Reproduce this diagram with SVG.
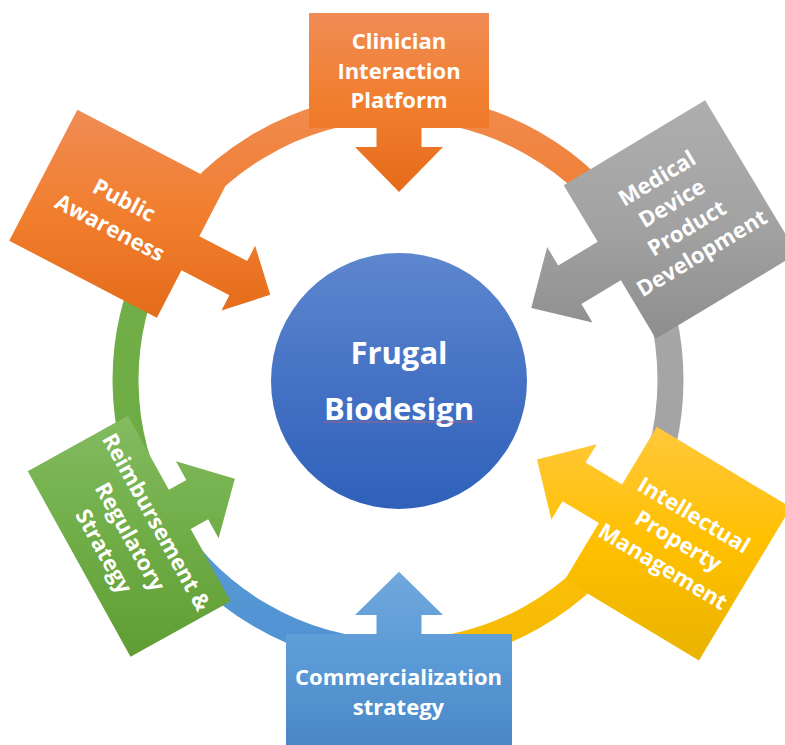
<svg xmlns="http://www.w3.org/2000/svg" width="785" height="745" viewBox="0 0 785 745">
<style>
.lbl{font-family:"Open Sans","Liberation Sans",sans-serif;font-weight:700;font-size:22px;fill:#ffffff;text-anchor:middle}
.ctr{font-family:"Open Sans","Liberation Sans",sans-serif;font-weight:700;font-size:31px;fill:#ffffff;text-anchor:middle}
.ring{fill:none;stroke-width:26}
</style>
<defs>
<linearGradient id="gOrA" gradientUnits="userSpaceOnUse" x1="0" y1="13" x2="0" y2="192" gradientTransform="rotate(0) translate(-399 -381)"><stop offset="0" stop-color="#F08C55"/><stop offset="0.5" stop-color="#F17E2E"/><stop offset="1" stop-color="#E46C1A"/></linearGradient>
<linearGradient id="gGray" gradientUnits="userSpaceOnUse" x1="0" y1="100" x2="0" y2="338" gradientTransform="rotate(-59) translate(-399 -381)"><stop offset="0" stop-color="#AEAEAE"/><stop offset="0.5" stop-color="#A3A3A3"/><stop offset="1" stop-color="#8E8E8E"/></linearGradient>
<linearGradient id="gGold" gradientUnits="userSpaceOnUse" x1="0" y1="427" x2="0" y2="658" gradientTransform="rotate(-121) translate(-399 -381)"><stop offset="0" stop-color="#FFC83C"/><stop offset="0.5" stop-color="#FFC000"/><stop offset="1" stop-color="#EAB400"/></linearGradient>
<linearGradient id="gBlue" gradientUnits="userSpaceOnUse" x1="0" y1="572" x2="0" y2="749" gradientTransform="rotate(-180) translate(-399 -381)"><stop offset="0" stop-color="#71A8DD"/><stop offset="0.5" stop-color="#5A9AD6"/><stop offset="1" stop-color="#4A86C6"/></linearGradient>
<linearGradient id="gGreen" gradientUnits="userSpaceOnUse" x1="0" y1="416" x2="0" y2="657" gradientTransform="rotate(-241) translate(-399 -381)"><stop offset="0" stop-color="#83BB61"/><stop offset="0.5" stop-color="#70AD47"/><stop offset="1" stop-color="#5F9D34"/></linearGradient>
<linearGradient id="gOrB" gradientUnits="userSpaceOnUse" x1="0" y1="109" x2="0" y2="318" gradientTransform="rotate(-297.5) translate(-399 -381)"><stop offset="0" stop-color="#F08C55"/><stop offset="0.5" stop-color="#F17E2E"/><stop offset="1" stop-color="#E46C1A"/></linearGradient>
<linearGradient id="gCenter" x1="0" y1="0" x2="0" y2="1"><stop offset="0" stop-color="#5D87CE"/><stop offset="0.5" stop-color="#4572C4"/><stop offset="1" stop-color="#2F61BA"/></linearGradient>
<linearGradient id="rOr" x1="0" y1="0" x2="0" y2="1"><stop offset="0" stop-color="#F18A4C"/><stop offset="1" stop-color="#EE7A2C"/></linearGradient>
<linearGradient id="rGray" x1="0" y1="0" x2="0" y2="1"><stop offset="0" stop-color="#A8A8A8"/><stop offset="1" stop-color="#A2A2A2"/></linearGradient>
<linearGradient id="rGold" x1="0" y1="0" x2="0" y2="1"><stop offset="0" stop-color="#FFC411"/><stop offset="1" stop-color="#F5B900"/></linearGradient>
<linearGradient id="rBlue" x1="0" y1="0" x2="0" y2="1"><stop offset="0" stop-color="#5B9BD7"/><stop offset="1" stop-color="#5092D3"/></linearGradient>
<linearGradient id="rGreen" x1="0" y1="0" x2="0" y2="1"><stop offset="0" stop-color="#72AF49"/><stop offset="1" stop-color="#6CAA43"/></linearGradient>
</defs>
<rect width="785" height="745" fill="#ffffff"/>
<g id="connectors">
<path class="ring" stroke="url(#rOr)" d="M398,107.5 A272.5,272.5 0 0 1 631.6,239.7"/>
<path class="ring" stroke="url(#rGray)" d="M631.6,239.7 A272.5,272.5 0 0 1 631.6,520.3"/>
<path class="ring" stroke="url(#rGold)" d="M631.6,520.3 A272.5,272.5 0 0 1 398,652.5"/>
<path class="ring" stroke="url(#rBlue)" d="M398,652.5 A272.5,272.5 0 0 1 159.7,512.1"/>
<path class="ring" stroke="url(#rGreen)" d="M159.7,512.1 A272.5,272.5 0 0 1 156.3,254.2"/>
<path class="ring" stroke="url(#rOr)" d="M156.3,254.2 A272.5,272.5 0 0 1 398,107.5"/>
</g>
<g id="node-clinician">
<polygon fill="url(#gOrA)" transform="translate(399 381) rotate(0)" points="-90,-368 90,-368 90,-253 22.5,-253 22.5,-234 44,-234 0,-189 -44,-234 -22.5,-234 -22.5,-253 -90,-253"/>
<text class="lbl" x="399" y="48.5">Clinician</text>
<text class="lbl" x="399" y="78.5">Interaction</text>
<text class="lbl" x="399" y="108">Platform</text>
</g>
<g id="node-medical">
<polygon fill="url(#gGray)" transform="translate(399 381) rotate(59)" points="-83,-407 96,-407 96,-242 28,-242 28,-196 49.5,-196 5.5,-151 -38.5,-196 -17,-196 -17,-242 -83,-242"/>
<g transform="translate(679.4 215.8) rotate(-31)">
<text class="lbl" x="0" y="-36">Medical</text>
<text class="lbl" x="0" y="-7">Device</text>
<text class="lbl" x="0" y="22">Product</text>
<text class="lbl" x="0" y="51">Development</text>
</g>
</g>
<g id="node-ip">
<polygon fill="url(#gGold)" transform="translate(399 381) rotate(121)" points="-93.5,-401 85,-401 85,-244.5 18.8,-244.5 18.8,-202 40.3,-202 -3.7,-158.7 -47.7,-202 -26.2,-202 -26.2,-244.5 -93.5,-244.5"/>
<g transform="translate(678.3 541) rotate(31)">
<text class="lbl" x="0" y="-22.5">Intellectual</text>
<text class="lbl" x="0" y="7.5">Property</text>
<text class="lbl" x="0" y="37.5">Management</text>
</g>
</g>
<g id="node-commercialization">
<polygon fill="url(#gBlue)" transform="translate(399 381) rotate(180)" points="-113,-372 113,-372 113,-253 22.5,-253 22.5,-234 44,-234 0,-190.7 -44,-234 -22.5,-234 -22.5,-253 -113,-253"/>
<text class="lbl" x="398.5" y="685">Commercialization</text>
<text class="lbl" x="398.5" y="715">strategy</text>
</g>
<g id="node-reimbursement">
<polygon fill="url(#gGreen)" transform="translate(399 381) rotate(241)" points="-111,-368.5 101,-368.5 101,-254 16.5,-254 16.5,-234 38,-234 -6,-191 -50,-234 -28.5,-234 -28.5,-254 -111,-254"/>
<g transform="translate(130 536.7) rotate(61)">
<text class="lbl" x="0" y="-22.5">Reimbursement &amp;</text>
<text class="lbl" x="0" y="7.5">Regulatory</text>
<text class="lbl" x="0" y="37.5">Strategy</text>
</g>
</g>
<g id="node-public">
<polygon fill="url(#gOrB)" transform="translate(399 381) rotate(297.5)" points="-55.6,-410.5 92,-410.5 92,-244 36.3,-244 36.3,-190 53.5,-190 17,-154 -19.5,-190 -2.3,-190 -2.3,-244 -55.6,-244"/>
<g transform="translate(117 214) rotate(27.5)">
<text class="lbl" x="0" y="-8">Public</text>
<text class="lbl" x="0" y="23">Awareness</text>
</g>
</g>
<g id="node-center">
<circle cx="399" cy="381" r="128" fill="url(#gCenter)"/>
<text class="ctr" x="399" y="364">Frugal</text>
<text class="ctr" x="399" y="420">Biodesign</text>
<line x1="323" y1="422" x2="476" y2="422" stroke="#B8607A" stroke-width="1" stroke-opacity="0.8"/>
</g>
</svg>
